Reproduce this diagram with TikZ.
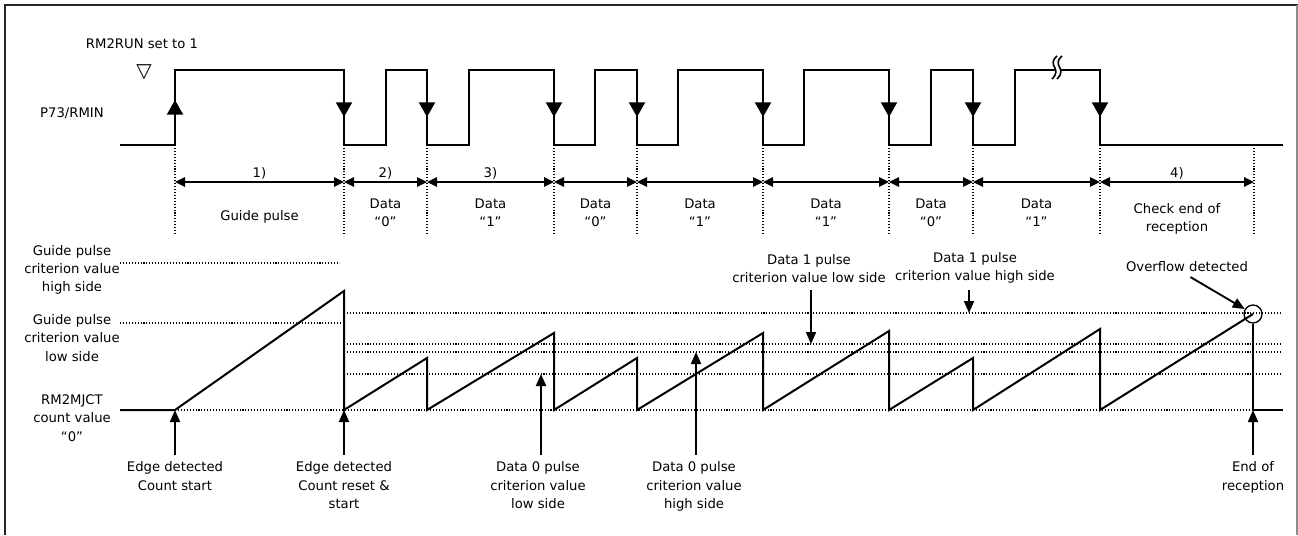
\documentclass[tikz,border=0pt]{standalone}
\usepackage{fontspec}
\setmainfont{DejaVu Sans}
\usetikzlibrary{arrows.meta,positioning,calc}

\begin{document}
\begin{tikzpicture}[
    x=0.75pt, y=-0.75pt,
    font=\fontsize{9.9}{13.7}\selectfont,
    sig/.style={line width=1.5pt, line join=miter},
    guide/.style={line width=0.8pt, dash pattern=on 0.8pt off 1.4pt},
    arr/.style={-{Triangle[width=7.5pt,length=9pt]}, line width=1.4pt, shorten <=3pt},
    span/.style={{Triangle[width=7pt,length=7.5pt]}-{Triangle[width=7pt,length=7.5pt]}, line width=1.4pt},
    edgetip/.style={-{Triangle[width=12pt,length=11pt]}, line width=1.5pt},
    lbl/.style={align=center, inner sep=2pt}
]

% frame
\useasboundingbox (0,0) rectangle (1298,535);
\draw[line width=1.6pt, black!85] (5,535) -- (5,5) -- (1298,5);
\draw[line width=0.8pt, black!45] (1297,5) -- (1297,535);

% P73/RMIN input
\node (run) at (142,44) {RM2RUN set to 1};
\node[font=\fontsize{15}{15}\selectfont, inner sep=0pt] (trig) at (144,72) {▽};
\node (pin) at (72,113) {P73/RMIN};
\draw[sig] (120,145)
  \foreach \r/\f in {175/344,386/427,469/554,595/637,678/763,804/889,931/973,1015/1100}
    { -- (\r,145) -- (\r,70) -- (\f,70) -- (\f,145) } -- (1283,145);
\draw[edgetip] (175,118) -- (175,100);
\foreach \f in {344,427,554,637,763,889,973,1100}
  \draw[edgetip] (\f,100) -- (\f,117);

% break mark
\fill[white] (1055.4,64) rectangle (1060.4,76);
\draw[line width=1.2pt] (1057,56) .. controls (1046,66) and (1063,68) .. (1052,79);
\draw[line width=1.2pt] (1062,56) .. controls (1051,66) and (1068,68) .. (1057,79);

% periods
\foreach \x [count=\i] in {175,344,427,554,637,763,889,973,1100,1254} {
  \coordinate (m\i) at (\x,182);
  \draw[guide] (\x,145) -- (\x,235);
}
\foreach \i [evaluate=\i as \j using int(\i+1)] in {1,...,9}
  \draw[span] (m\i) -- (m\j);
\node (n1) at ($(m1)!.5!(m2)+(0,-9)$) {1)};
\node (n2) at ($(m2)!.5!(m3)+(0,-9)$) {2)};
\node (n3) at ($(m3)!.5!(m4)+(0,-9)$) {3)};
\node (n4) at ($(m9)!.5!(m10)+(0,-9)$) {4)};
\node[lbl] (s1) at ($(m1)!.5!(m2)+(0,35)$) {Guide pulse};
\foreach \i/\d in {2/0,3/1,4/0,5/1,6/1,7/0,8/1} {
  \pgfmathtruncatemacro{\j}{\i+1}
  \node[lbl] (s\i) at ($(m\i)!.5!(m\j)+(0,30.5)$) {Data\\“\d”};
}
\node[lbl] (s9) at ($(m9)!.5!(m10)+(0,37)$) {Check end of\\reception};

% criterion levels
\draw[guide] (120,263) -- (340,263);
\draw[guide] (120,323) -- (344,323);
\draw[guide] (344,313) -- (1282,313);
\draw[guide] (344,344) -- (1282,344);
\draw[guide] (344,352) -- (1282,352);
\draw[guide] (344,374) -- (1282,374);
\draw[guide] (175,410) -- (1253,410);
\node[lbl] (gh) at (72,270) {Guide pulse\\criterion value\\high side};
\node[lbl] (gl) at (72,338) {Guide pulse\\criterion value\\low side};
\node[lbl] (cz) at (72,418) {RM2MJCT\\count value\\“0”};

% RM2MJCT count
\node[circle, draw, line width=1pt, minimum size=13.5pt, inner sep=0pt] (ovc) at (1253,314) {};
\draw[sig] (120,410) -- (175,410) -- (344,291) -- (344,410) -- (427,358) -- (427,410)
  -- (554,333) -- (554,410) -- (637,358) -- (637,410) -- (763,333) -- (763,410)
  -- (889,331) -- (889,410) -- (973,358) -- (973,410) -- (1100,329) -- (1100,410) -- (ovc.center);
\draw[sig] (ovc.south) -- (1253,410) -- (1283,410);

% pointers
\coordinate (p1) at (175,410);
\coordinate (p2) at (344,410);
\coordinate (p3) at (541,374);
\coordinate (p4) at (696,352);
\coordinate (p5) at (1253,410);
\coordinate (p6) at (811,344);
\coordinate (p7) at (969,313);
\node[lbl, anchor=north] (l1) at (175,459) {Edge detected\\Count start};
\node[lbl, anchor=north] (l2) at (344,459) {Edge detected\\Count reset \&\\start};
\node[lbl, anchor=north] (l3) at (538,459) {Data 0 pulse\\criterion value\\low side};
\node[lbl, anchor=north] (l4) at (694,459) {Data 0 pulse\\criterion value\\high side};
\node[lbl, anchor=north] (l5) at (1253,459) {End of\\reception};
\node[lbl, anchor=south] (l6) at (809,286) {Data 1 pulse\\criterion value low side};
\node[lbl, anchor=south] (l7) at (975,286) {Data 1 pulse\\criterion value high side};
\node[lbl] (l8) at (1187,267) {Overflow detected};
\draw[arr] (l1.north) -- (p1);
\draw[arr] (l2.north) -- (p2);
\draw[arr] (p3 |- l3.north) -- (p3);
\draw[arr] (p4 |- l4.north) -- (p4);
\draw[arr] (l5.north) -- (p5);
\draw[arr] (p6 |- l6.south) -- (p6);
\draw[arr] (p7 |- l7.south) -- (p7);
\draw[arr] (l8.south) -- (ovc.149);

\end{tikzpicture}
\end{document}
